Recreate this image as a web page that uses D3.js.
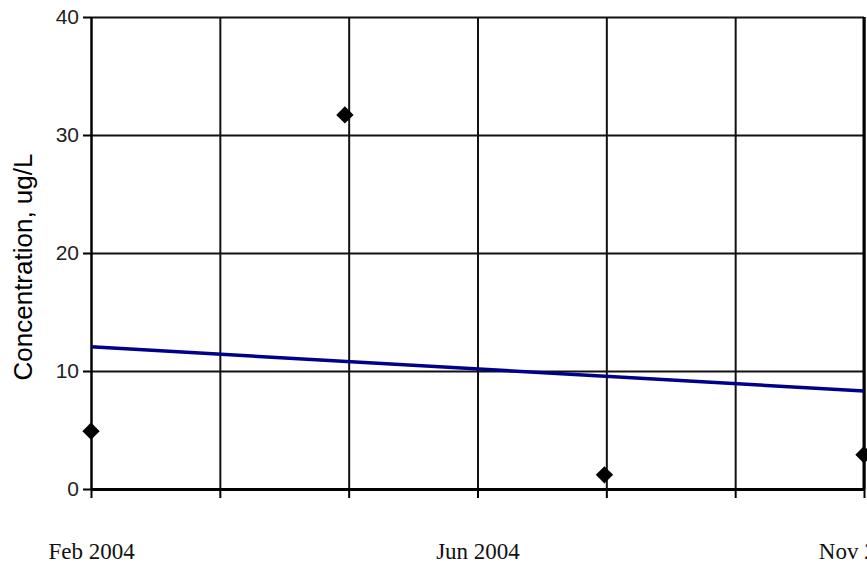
<!DOCTYPE html>
<html>
<head>
<meta charset="utf-8">
<script src="https://cdn.jsdelivr.net/npm/d3@7"></script>
<style>
	body { margin: 0; background: #fff; }
	svg { display: block; }
</style>
</head>
<body>
<div id="chart"></div>
<script>
	// sample dates and measured concentrations
	var sampleDates = ["2004-02-01", "2004-05-01", "2004-08-01", "2004-11-01"];
	var sampleValues = [4.9, 31.7, 1.2, 2.9];

	// linear trend, start and end of the window
	var trendDates = ["2004-02-01", "2004-11-01"];
	var trendValues = [12.05, 8.3];

	var yTicks = [0, 10, 20, 30, 40];
	var xLabelEvery = 3;

	var width = 867, height = 572;
	var margin = {top: 17, right: 3, bottom: 83, left: 91};
	var w = width - margin.left - margin.right,
		h = height - margin.top - margin.bottom;

	var parse = d3.timeParse("%Y-%m-%d");
	var fmt = d3.timeFormat("%b %Y");

	var x = d3.scaleTime()
		.domain([parse("2004-02-01"), parse("2004-11-01")])
		.range([0, w]);
	var y = d3.scaleLinear().domain([0, 40]).range([h, 0]);

	// six equal intervals across the window
	var t0 = x.domain()[0].getTime(), t1 = x.domain()[1].getTime();
	var xTicks = d3.range(7).map(function(i) { return new Date(t0 + (t1 - t0) * i / 6); });

	var svg = d3.select("#chart").append("svg")
		.attr("width", width)
		.attr("height", height);

	var g = svg.append("g")
		.attr("transform", "translate(" + margin.left + "," + margin.top + ")");

	// grid
	g.append("g")
		.attr("transform", "translate(0," + h + ")")
		.call(d3.axisBottom(x).tickValues(xTicks).tickSize(-h).tickFormat(""))
		.call(function(s) {
			s.select(".domain").remove();
			s.selectAll("line").attr("stroke", "#111").attr("stroke-width", 2);
		});
	g.append("g")
		.call(d3.axisLeft(y).tickValues(yTicks).tickSize(-w).tickFormat(""))
		.call(function(s) {
			s.select(".domain").remove();
			s.selectAll("line").attr("stroke", "#111").attr("stroke-width", 2);
		});

	// right border a bit heavier
	g.append("line")
		.attr("x1", w).attr("x2", w).attr("y1", 0).attr("y2", h)
		.attr("stroke", "#000").attr("stroke-width", 3);

	// axes
	var xAxis = g.append("g")
		.attr("transform", "translate(0," + h + ")")
		.call(d3.axisBottom(x).tickValues(xTicks).tickSize(9).tickSizeOuter(0)
			.tickFormat(function(d, i) { return i % xLabelEvery === 0 ? fmt(d) : ""; }));
	xAxis.select(".domain").attr("stroke", "#000").attr("stroke-width", 3);
	xAxis.selectAll("line").attr("stroke", "#000").attr("stroke-width", 2);
	xAxis.selectAll("text")
		.attr("y", 70)
		.attr("dy", 0)
		.attr("fill", "#111")
		.style("font-family", "'Liberation Serif', 'Times New Roman', serif")
		.style("font-size", "23px");

	var yAxis = g.append("g")
		.call(d3.axisLeft(y).tickValues(yTicks).tickSize(8).tickSizeOuter(0));
	yAxis.select(".domain").attr("stroke", "#000").attr("stroke-width", 2);
	yAxis.selectAll("line").attr("stroke", "#000").attr("stroke-width", 2);
	yAxis.selectAll("text")
		.attr("x", -12)
		.attr("fill", "#222")
		.style("font-family", "'Liberation Sans', Arial, sans-serif")
		.style("font-size", "21px");

	// trend line
	var line = d3.line()
		.x(function(d) { return x(parse(d[0])); })
		.y(function(d) { return y(d[1]); });
	g.append("path")
		.datum(d3.zip(trendDates, trendValues))
		.attr("d", line)
		.attr("fill", "none")
		.attr("stroke", "#00008b")
		.attr("stroke-width", 3.5);

	// samples
	g.selectAll(".pt")
		.data(d3.zip(sampleDates, sampleValues))
		.enter().append("path")
		.attr("class", "pt")
		.attr("d", d3.symbol().type(d3.symbolSquare).size(150))
		.attr("transform", function(d) {
			return "translate(" + x(parse(d[0])) + "," + y(d[1]) + ") rotate(45)";
		})
		.attr("fill", "#000");

	// y title
	svg.append("text")
		.attr("transform", "translate(32,267) rotate(-90)")
		.attr("text-anchor", "middle")
		.style("font-family", "'Liberation Sans', Arial, sans-serif")
		.style("font-size", "26px")
		.attr("fill", "#000")
		.text("Concentration, ug/L");
</script>
</body>
</html>
